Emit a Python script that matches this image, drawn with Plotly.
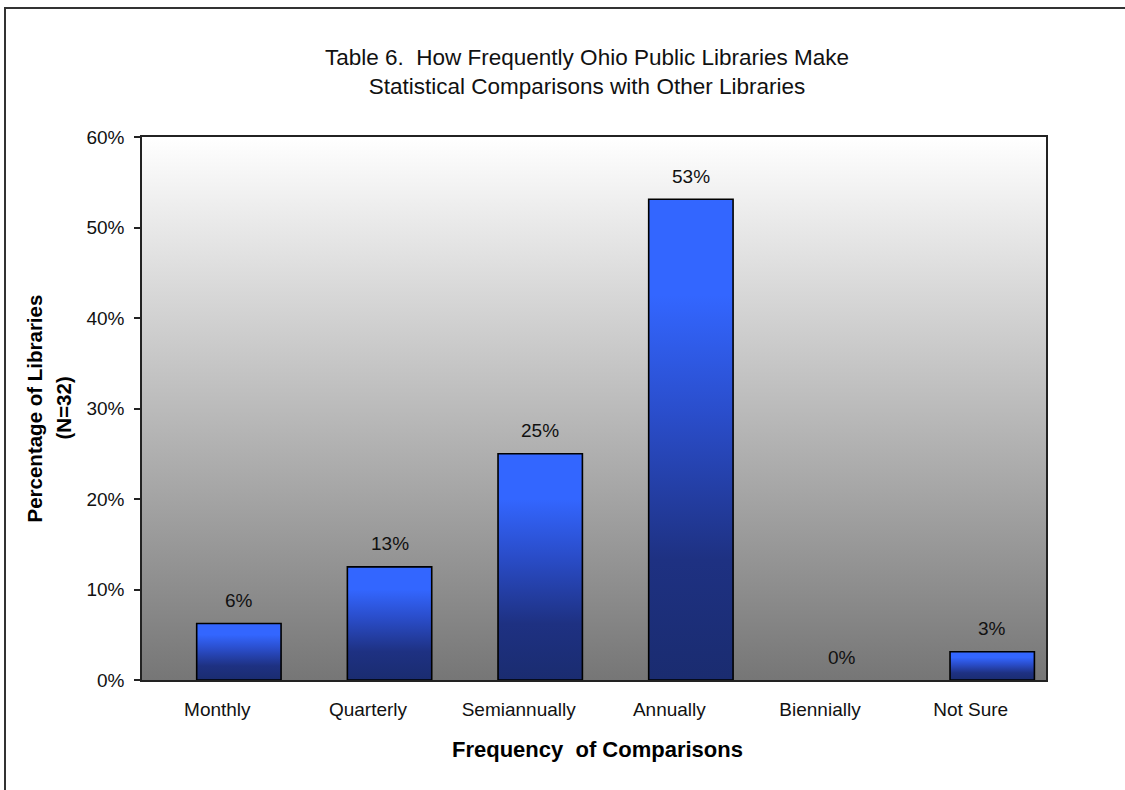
import base64
import plotly.graph_objects as go

# ---- data ----
categories = ["Monthly", "Quarterly", "Semiannually", "Annually", "Biennially", "Not Sure"]
values = [0.0625, 0.125, 0.25, 0.53125, 0.0, 0.03125]
value_labels = ["6%", "13%", "25%", "53%", "0%", "3%"]
y_tickvals = [0, 0.1, 0.2, 0.3, 0.4, 0.5, 0.6]
y_ticktext = ["0%", "10%", "20%", "30%", "40%", "50%", "60%"]

title_text = "Table 6.  How Frequently Ohio Public Libraries Make<br>Statistical Comparisons with Other Libraries"
x_title = "Frequency\u00a0 of Comparisons"
y_title_1 = "Percentage of Libraries"
y_title_2 = "(N=32)"

# ---- style ----
FONT = "Liberation Sans, Arial, sans-serif"
W, H = 1125, 790
L, R, T, B = 142, 79, 137, 110
PW, PH = W - L - R, H - T - B
BAR_W = 0.56
BAR_OFF = 0.143

bar_scale = [[0.0, "#1a2c70"], [0.25, "#1e3182"], [0.55, "#2a4dca"],
             [0.8, "#3366ff"], [1.0, "#3366ff"]]

fig = go.Figure()

for i, (v, lab) in enumerate(zip(values, value_labels)):
    c = i + BAR_OFF
    x0, x1 = c - BAR_W / 2, c + BAR_W / 2
    if v > 0:
        fig.add_trace(go.Scatter(
            x=[x0, x0, x1, x1, x0], y=[0, v, v, 0, 0],
            mode="lines", fill="toself",
            fillgradient=dict(type="vertical", colorscale=bar_scale),
            line=dict(color="#000000", width=1.6),
            hoverinfo="skip", showlegend=False,
        ))
    fig.add_annotation(x=c, y=v, xref="x", yref="y", text=lab, showarrow=False,
                       yanchor="middle", yshift=23,
                       font=dict(family=FONT, size=19, color="#111111"))

# background gradient for plot area
svg = ('<svg xmlns="http://www.w3.org/2000/svg" width="10" height="100" preserveAspectRatio="none">'
       '<defs><linearGradient id="g" x1="0" y1="0" x2="0" y2="1">'
       '<stop offset="0" stop-color="#ffffff"/><stop offset="1" stop-color="#767676"/>'
       '</linearGradient></defs><rect width="10" height="100" fill="url(#g)"/></svg>')
src = "data:image/svg+xml;base64," + base64.b64encode(svg.encode()).decode()
fig.add_layout_image(dict(source=src, xref="paper", yref="paper", x=0, y=1,
                          sizex=1, sizey=1, sizing="stretch", layer="below",
                          xanchor="left", yanchor="top"))

def px_x(p):
    return (p - L) / PW

def px_y(p):
    return (H - B - p) / PH

# title
fig.add_annotation(x=px_x(587), y=px_y(72), xref="paper", yref="paper",
                   text=title_text, showarrow=False, xanchor="center", yanchor="middle",
                   font=dict(family=FONT, size=22.5, color="#111111"))
# axis titles
fig.add_annotation(x=px_x(597), y=px_y(750), xref="paper", yref="paper",
                   text="<b>" + x_title + "</b>", showarrow=False,
                   xanchor="center", yanchor="middle",
                   font=dict(family=FONT, size=22, color="#000000"))
fig.add_annotation(x=px_x(34), y=0.5, xref="paper", yref="paper",
                   text="<b>" + y_title_1 + "</b>", showarrow=False, textangle=-90,
                   xanchor="center", yanchor="middle",
                   font=dict(family=FONT, size=20.5, color="#000000"))
fig.add_annotation(x=px_x(63), y=0.5, xref="paper", yref="paper",
                   text="<b>" + y_title_2 + "</b>", showarrow=False, textangle=-90,
                   xanchor="center", yanchor="middle",
                   font=dict(family=FONT, size=20.5, color="#000000"))

# outer figure border
fig.add_shape(type="rect", xref="paper", yref="paper",
              x0=px_x(5), x1=px_x(1140), y0=px_y(805), y1=px_y(8),
              line=dict(color="#333333", width=2), fillcolor="rgba(0,0,0,0)", layer="above")

fig.update_layout(
    width=W, height=H,
    margin=dict(l=L, r=R, t=T, b=B),
    paper_bgcolor="white",
    plot_bgcolor="rgba(0,0,0,0)",
    showlegend=False,
    xaxis=dict(
        range=[-0.5, len(categories) - 0.5],
        tickvals=list(range(len(categories))),
        ticktext=categories,
        showgrid=False, zeroline=False,
        showline=True, linecolor="#222222", linewidth=1.5, mirror=True,
        ticks="", ticklabelstandoff=11,
        tickfont=dict(family=FONT, size=19, color="#111111"),
        fixedrange=True,
    ),
    yaxis=dict(
        range=[0, 0.6],
        tickvals=y_tickvals, ticktext=y_ticktext,
        showgrid=False, zeroline=False,
        showline=True, linecolor="#222222", linewidth=1.5, mirror=True,
        ticks="outside", ticklen=6, tickcolor="#222222", tickwidth=1.5,
        ticklabelstandoff=6,
        tickfont=dict(family=FONT, size=19, color="#111111"),
        fixedrange=True,
    ),
)

fig.write_html("out.html")
